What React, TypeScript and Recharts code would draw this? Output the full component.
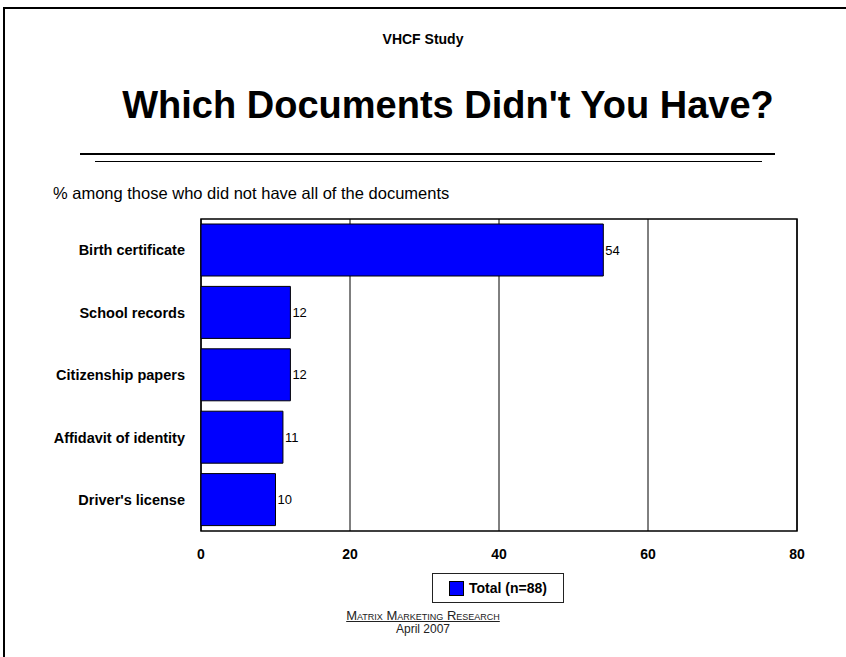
import React from "react";
import { BarChart, Bar, XAxis, YAxis, CartesianGrid, LabelList, ReferenceArea } from "recharts";

const categories = ["Birth certificate", "School records", "Citizenship papers", "Affidavit of identity", "Driver's license"];
const totals = [54, 12, 12, 11, 10];
const xTicks = [0, 20, 40, 60, 80];
const seriesName = "Total (n=88)";

const data = categories.map((c, i) => ({ name: c, total: totals[i] }));

const FONT = "'Liberation Sans', Arial, sans-serif";

const LegendBox = () => (
  <div
    style={{
      position: "absolute",
      left: 432,
      top: 573,
      width: 132,
      height: 30,
      border: "1px solid #222",
      boxSizing: "border-box",
      display: "flex",
      alignItems: "center",
      justifyContent: "center",
      fontFamily: FONT,
      fontWeight: "bold",
      fontSize: 14,
      color: "#000",
      background: "#fff",
    }}
  >
    <span style={{ display: "inline-block", width: 13, height: 13, background: "#0000FF", border: "1px solid #000", marginRight: 5 }} />
    {seriesName}
  </div>
);

export default function App() {
  return (
    <div style={{ position: "absolute", left: 0, top: 0, width: 846, height: 657, background: "#fff", overflow: "hidden", fontFamily: FONT }}>
      <div style={{ position: "absolute", left: 3, top: 7, width: 900, height: 700, borderLeft: "2px solid #000", borderTop: "2px solid #000" }} />
      <div style={{ position: "absolute", left: 0, width: 846, top: 31, textAlign: "center", fontWeight: "bold", fontSize: 14 }}>VHCF Study</div>
      <div style={{ position: "absolute", left: 25, width: 846, top: 84, textAlign: "center", fontWeight: "bold", fontSize: 38 }}>Which Documents Didn't You Have?</div>
      <div style={{ position: "absolute", left: 80, width: 695, top: 153, height: 2, background: "#000" }} />
      <div style={{ position: "absolute", left: 95, width: 667, top: 161, height: 1, background: "#000" }} />
      <div style={{ position: "absolute", left: 53, top: 184, fontSize: 16.5 }}>% among those who did not have all of the documents</div>
      <div style={{ position: "absolute", left: 0, top: 0 }}>
        <BarChart
          width={846}
          height={657}
          data={data}
          layout="vertical"
          margin={{ top: 219, bottom: 96, left: 0, right: 49 }}
          barCategoryGap={5}
        >
          <CartesianGrid horizontal={false} vertical={true} stroke="#000" strokeWidth={1} />
          <XAxis
            type="number"
            domain={[0, 80]}
            ticks={xTicks}
            height={30}
            axisLine={false}
            tickLine={false}
            tickSize={0}
            tickMargin={18}
            tick={{ fontFamily: FONT, fontWeight: "bold", fontSize: 14, fill: "#000" }}
            interval={0}
          />
          <YAxis
            type="category"
            dataKey="name"
            width={201}
            axisLine={false}
            tickLine={false}
            tickSize={0}
            tickMargin={16}
            tick={{ fontFamily: FONT, fontWeight: "bold", fontSize: 14.5, fill: "#000" }}
            interval={0}
          />
          <ReferenceArea x1={0} x2={80} fill="none" stroke="#000" strokeWidth={1.5} ifOverflow="visible" />
          <Bar dataKey="total" name={seriesName} fill="#0000FF" stroke="#000" strokeWidth={1} isAnimationActive={false}>
            <LabelList dataKey="total" position="right" offset={2} style={{ fontFamily: FONT, fontSize: 13, fill: "#000" }} />
          </Bar>
        </BarChart>
      </div>
      <LegendBox />
      <div style={{ position: "absolute", left: 0, width: 846, top: 610, textAlign: "center", fontSize: 13, fontVariant: "small-caps", textDecoration: "underline", color: "#222", lineHeight: "12px" }}>Matrix Marketing Research</div>
      <div style={{ position: "absolute", left: 0, width: 846, top: 623, textAlign: "center", fontSize: 12, color: "#222", lineHeight: "12px" }}>April 2007</div>
    </div>
  );
}
